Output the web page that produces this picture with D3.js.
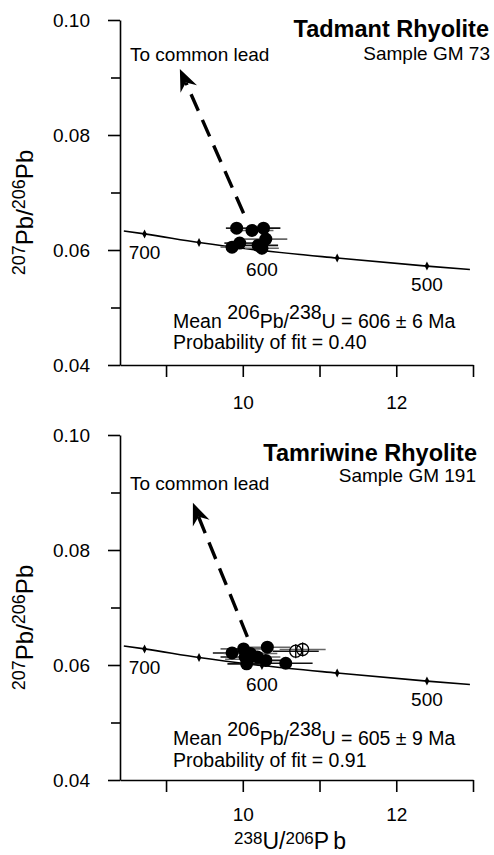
<!DOCTYPE html>
<html>
<head>
<meta charset="utf-8">
<script src="https://cdn.jsdelivr.net/npm/d3@7"></script>
<style>
  html, body { margin: 0; padding: 0; background: #fff; }
  svg { display: block; font-family: "Liberation Sans", Arial, sans-serif; }
</style>
</head>
<body>
<svg id="chart" width="494" height="855"></svg>
<script>
// ---- Data ----
// Concordia curve (238U/206Pb, 207Pb/206Pb)
const concordiaX = [8.45, 8.72, 9.43, 10.25, 11.23, 12.40, 12.96];
const concordiaY = [0.0633, 0.0628, 0.0613, 0.0599, 0.0586, 0.0572, 0.0566];
// Age markers on the concordia (Ma)
const markerAges = [700, 650, 600, 550, 500];
const markerX = [8.72, 9.43, 10.25, 11.23, 12.40];
const markerY = [0.0628, 0.0613, 0.0599, 0.0586, 0.0572];
const labelledAges = [700, 600, 500];

// Panel 1: Tadmant Rhyolite, sample GM 73
const gm73X   = [9.92, 10.12, 10.27, 10.30, 9.96, 9.86, 10.20, 10.25];
const gm73Y   = [0.0638, 0.0634, 0.0638, 0.0619, 0.0612, 0.0605, 0.0608, 0.0603];
const gm73Err = [0.14, 0.28, 0.22, 0.28, 0.20, 0.15, 0.26, 0.22];
const gm73ArrowFrom = [10.01, 0.0664];
const gm73ArrowTo   = [9.18, 0.0915];

// Panel 2: Tamriwine Rhyolite, sample GM 191
const gm191X   = [9.86, 10.01, 10.03, 10.10, 10.05, 10.19, 10.30, 10.32, 10.56, 10.07];
const gm191Y   = [0.0621, 0.0628, 0.0614, 0.0620, 0.0602, 0.0614, 0.0608, 0.0631, 0.0603, 0.0610];
const gm191Err = [0.25, 0.30, 0.32, 0.35, 0.25, 0.30, 0.30, 0.30, 0.35, 0.30];
const gm191OpenX   = [10.69, 10.78];
const gm191OpenY   = [0.0624, 0.0627];
const gm191OpenErr = [0.30, 0.30];
const gm191ArrowFrom = [10.06, 0.0649];
const gm191ArrowTo   = [9.35, 0.0882];

// Axes
const xDomain = [8.4, 13.0];
const yDomain = [0.04, 0.10];
const xTicks = [9, 10, 11, 12, 13];
const xTickLabels = {10: "10", 12: "12"};
const yMajorTicks = [0.04, 0.06, 0.08, 0.10];
const yMinorTicks = [0.05, 0.07, 0.09];

const panels = [
  {
    title: "Tadmant Rhyolite", sample: "Sample GM 73",
    mean: "606", err: "6", prob: "0.40",
    pts: gm73X.map((x, i) => ({x, y: gm73Y[i], e: gm73Err[i]})),
    open: [],
    arrowFrom: gm73ArrowFrom, arrowTo: gm73ArrowTo,
    top: 20, bottom: 365, xPad: 19,
    titleX: 489, titleY: 37, sampleX: 490, sampleY: 60,
    leadY: 61, meanY: 328, probY: 349, xTitle: false
  },
  {
    title: "Tamriwine Rhyolite", sample: "Sample GM 191",
    mean: "605", err: "9", prob: "0.91",
    pts: gm191X.map((x, i) => ({x, y: gm191Y[i], e: gm191Err[i]})),
    open: gm191OpenX.map((x, i) => ({x, y: gm191OpenY[i], e: gm191OpenErr[i]})),
    arrowFrom: gm191ArrowFrom, arrowTo: gm191ArrowTo,
    top: 435, bottom: 780, xPad: 16,
    titleX: 477, titleY: 461, sampleX: 476, sampleY: 482,
    leadY: 490, meanY: 745, probY: 767, xTitle: true
  }
];

const svg = d3.select("#chart");
const x = d3.scaleLinear().domain(xDomain).range([120, 473]);
const FS = 19;

panels.forEach(p => {
  const y = d3.scaleLinear().domain(yDomain).range([p.bottom, p.top]);
  const g = svg.append("g");

  // Y axis
  const yAx = g.append("g").attr("transform", `translate(120,0)`)
    .call(d3.axisLeft(y).tickValues(yMajorTicks).tickSize(12).tickSizeOuter(0)
      .tickPadding(18).tickFormat(d3.format(".2f")));
  const yMin = g.append("g").attr("transform", `translate(120,0)`)
    .call(d3.axisLeft(y).tickValues(yMinorTicks).tickSize(9).tickSizeOuter(0).tickFormat(""));
  yMin.select(".domain").remove();

  // X axis
  const xAx = g.append("g").attr("transform", `translate(0,${p.bottom})`)
    .call(d3.axisBottom(x).tickValues(xTicks).tickSize(12).tickSizeOuter(0)
      .tickPadding(p.xPad).tickFormat(d => xTickLabels[d] || ""));
  [yAx, yMin, xAx].forEach(a => {
    a.selectAll("path,line").attr("stroke", "#000").attr("stroke-width", 1.6);
    a.selectAll("text").attr("font-size", FS).attr("fill", "#000")
      .attr("font-family", "'Liberation Sans', Arial, sans-serif");
  });

  // Y axis title
  const yl = g.append("text")
    .attr("transform", `translate(33,${(p.top + p.bottom) / 2 + 20}) rotate(-90)`)
    .attr("text-anchor", "middle").attr("font-size", 24);
  yl.append("tspan").attr("font-size", 18).attr("dy", -8).text("207");
  yl.append("tspan").attr("dy", 8).text("Pb/");
  yl.append("tspan").attr("font-size", 18).attr("dy", -8).text("206");
  yl.append("tspan").attr("dy", 8).text("Pb");

  // Concordia
  const line = d3.line().x((d, i) => x(concordiaX[i])).y((d, i) => y(concordiaY[i])).curve(d3.curveMonotoneX);
  g.append("path").attr("d", line(concordiaX)).attr("fill", "none")
    .attr("stroke", "#000").attr("stroke-width", 1.6);
  // age markers (small vertical diamonds)
  markerAges.forEach((a, i) => {
    const cx = x(markerX[i]), cy = y(markerY[i]);
    g.append("path")
      .attr("d", `M${cx},${cy - 4.5}L${cx + 2.3},${cy}L${cx},${cy + 4.5}L${cx - 2.3},${cy}Z`)
      .attr("fill", "#000");
    if (labelledAges.includes(a)) {
      g.append("text").attr("x", cx).attr("y", cy + 25).attr("text-anchor", "middle")
        .attr("font-size", FS).text(a);
    }
  });

  // Arrow to common lead
  const x0 = x(p.arrowFrom[0]), y0 = y(p.arrowFrom[1]);
  const x1 = x(p.arrowTo[0]), y1 = y(p.arrowTo[1]);
  const len = Math.hypot(x1 - x0, y1 - y0);
  const ux = (x1 - x0) / len, uy = (y1 - y0) / len;
  const nx = -uy, ny = ux;
  const L = 22, W = 9, N = 7;
  g.append("line").attr("x1", x0).attr("y1", y0)
    .attr("x2", x1 - (L - N) * ux).attr("y2", y1 - (L - N) * uy)
    .attr("stroke", "#000").attr("stroke-width", 3.4).attr("stroke-dasharray", "18,10");
  g.append("path")
    .attr("d", `M${x1},${y1}L${x1 - L * ux + W * nx},${y1 - L * uy + W * ny}` +
               `L${x1 - (L - N) * ux},${y1 - (L - N) * uy}` +
               `L${x1 - L * ux - W * nx},${y1 - L * uy - W * ny}Z`)
    .attr("fill", "#000");

  // Error bars
  const allPts = p.pts.concat(p.open);
  g.selectAll(null).data(allPts).enter().append("line")
    .attr("x1", d => x(d.x - d.e)).attr("x2", d => x(d.x + d.e))
    .attr("y1", d => y(d.y)).attr("y2", d => y(d.y))
    .attr("stroke", (d, i) => i % 2 ? "#666" : "#111").attr("stroke-width", 1.6);

  // Filled analyses
  g.selectAll(null).data(p.pts).enter().append("circle")
    .attr("cx", d => x(d.x)).attr("cy", d => y(d.y)).attr("r", 6.5).attr("fill", "#000");
  // Open analyses
  p.open.forEach(d => {
    const cx = x(d.x), cy = y(d.y);
    g.append("circle").attr("cx", cx).attr("cy", cy).attr("r", 6)
      .attr("fill", "none").attr("stroke", "#000").attr("stroke-width", 1.3);
    g.append("line").attr("x1", cx).attr("x2", cx).attr("y1", cy - 7).attr("y2", cy + 7)
      .attr("stroke", "#000").attr("stroke-width", 1.3);
  });

  // Titles
  g.append("text").attr("x", p.titleX).attr("y", p.titleY).attr("text-anchor", "end")
    .attr("font-size", 23.5).attr("font-weight", "bold").text(p.title);
  g.append("text").attr("x", p.sampleX).attr("y", p.sampleY).attr("text-anchor", "end")
    .attr("font-size", FS).text(p.sample);
  g.append("text").attr("x", 130).attr("y", p.leadY).attr("font-size", FS).text("To common lead");

  // Mean / probability text
  const mt = g.append("text").attr("x", 173).attr("y", p.meanY).attr("font-size", 19.5);
  mt.append("tspan").text("Mean ");
  mt.append("tspan").attr("dy", -9).text("206");
  mt.append("tspan").attr("dy", 9).text("Pb/");
  mt.append("tspan").attr("dy", -9).text("238");
  mt.append("tspan").attr("dy", 9).text(`U = ${p.mean} \u00B1 ${p.err} Ma`);
  g.append("text").attr("x", 173).attr("y", p.probY).attr("font-size", 19.5)
    .text(`Probability of fit = ${p.prob}`);

  if (p.xTitle) {
    const xt = g.append("text").attr("x", 292).attr("y", 849).attr("text-anchor", "middle")
      .attr("font-size", 23);
    xt.append("tspan").attr("font-size", 17).attr("dy", -5).text("238");
    xt.append("tspan").attr("dy", 5).text("U/");
    xt.append("tspan").attr("font-size", 17).attr("dy", -5).text("206");
    xt.append("tspan").attr("dy", 5).attr("letter-spacing", 4).text("Pb");
  }
});
</script>
</body>
</html>
